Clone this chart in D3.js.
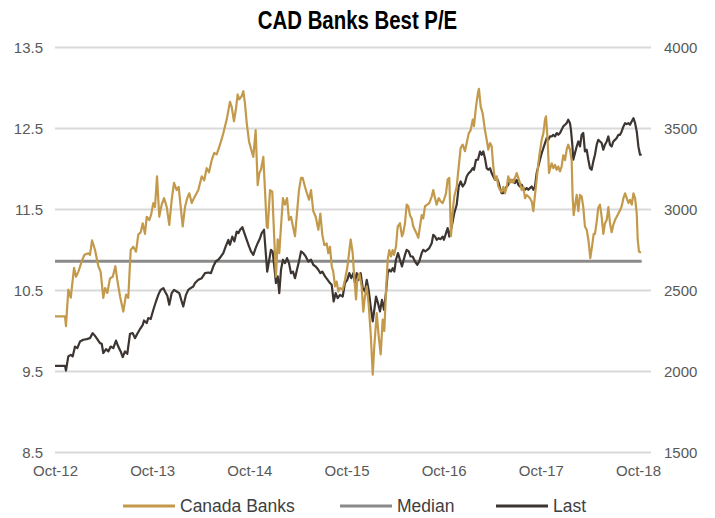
<!DOCTYPE html>
<html>
<head>
<meta charset="utf-8">
<script src="https://cdn.jsdelivr.net/npm/d3@7"></script>
<style>
  body { margin: 0; background: #fff; }
  svg { display: block; }
  .tick-label { font-family: "Liberation Sans", Arial, sans-serif; font-size: 15px; fill: #595959; }
  .legend-label { font-family: "Liberation Sans", Arial, sans-serif; font-size: 17.5px; fill: #404040; }
  .title { font-family: "Liberation Sans", Arial, sans-serif; font-weight: bold; font-size: 26.5px; fill: #000; }
</style>
</head>
<body>
<div id="chart"></div>
<script>
// decimal year, best P/E (left axis)
const canadaBanks = [
  [2012.750,10.18],[2012.853,10.18],[2012.863,10.06],[2012.887,10.51],[2012.912,10.41],[2012.946,10.78],[2012.966,10.67],[2012.990,10.73],
  [2013.025,10.86],[2013.052,10.94],[2013.093,10.96],[2013.110,10.94],[2013.131,11.12],[2013.162,11.00],[2013.196,10.80],[2013.220,10.73],
  [2013.247,10.41],[2013.265,10.53],[2013.288,10.47],[2013.316,10.65],[2013.344,10.67],[2013.371,10.80],[2013.391,10.63],[2013.419,10.43],
  [2013.453,10.24],[2013.481,10.45],[2013.504,10.41],[2013.529,11.00],[2013.556,11.04],[2013.584,10.98],[2013.607,11.19],[2013.632,11.22],
  [2013.653,11.33],[2013.676,11.20],[2013.694,11.41],[2013.720,11.37],[2013.738,11.43],[2013.762,11.58],[2013.779,11.53],[2013.800,11.91],
  [2013.823,11.41],[2013.848,11.56],[2013.872,11.64],[2013.900,11.53],[2013.926,11.31],[2013.951,11.62],[2013.975,11.83],[2014.002,11.74],
  [2014.023,11.78],[2014.044,11.53],[2014.064,11.29],[2014.088,11.53],[2014.111,11.64],[2014.132,11.70],[2014.157,11.58],[2014.180,11.64],
  [2014.225,11.74],[2014.260,11.91],[2014.286,11.86],[2014.311,12.01],[2014.335,11.96],[2014.363,12.11],[2014.389,12.20],[2014.414,12.18],
  [2014.448,12.30],[2014.482,12.44],[2014.517,12.61],[2014.551,12.83],[2014.568,12.77],[2014.592,12.59],[2014.613,12.75],[2014.630,12.92],
  [2014.647,12.86],[2014.671,12.90],[2014.688,12.96],[2014.705,12.81],[2014.723,12.57],[2014.747,12.34],[2014.774,12.22],[2014.791,12.15],
  [2014.815,12.48],[2014.836,11.80],[2014.853,11.95],[2014.870,11.99],[2014.894,12.15],[2014.911,11.74],[2014.929,11.29],[2014.939,11.27],
  [2014.963,11.74],[2014.986,11.72],[2015.007,11.13],[2015.024,10.67],[2015.042,11.13],[2015.058,10.96],[2015.076,11.29],[2015.096,11.64],
  [2015.117,11.56],[2015.138,11.64],[2015.158,11.37],[2015.179,11.41],[2015.199,11.29],[2015.220,11.17],[2015.240,11.45],[2015.261,11.74],
  [2015.282,11.89],[2015.299,11.89],[2015.323,11.78],[2015.343,11.70],[2015.364,11.62],[2015.385,11.74],[2015.408,11.48],[2015.433,11.41],
  [2015.460,11.25],[2015.481,11.45],[2015.501,11.19],[2015.522,11.06],[2015.546,11.08],[2015.563,10.96],[2015.580,11.04],[2015.598,10.80],
  [2015.614,10.73],[2015.632,10.55],[2015.649,10.61],[2015.666,10.49],[2015.683,10.53],[2015.711,10.51],[2015.734,10.63],[2015.758,10.78],
  [2015.793,11.13],[2015.814,10.96],[2015.827,10.71],[2015.848,10.39],[2015.861,10.63],[2015.882,10.71],[2015.906,10.55],[2015.923,10.24],
  [2015.940,10.43],[2015.958,10.55],[2015.978,10.33],[2015.999,9.97],[2016.020,9.46],[2016.036,9.81],[2016.061,10.22],[2016.081,9.94],
  [2016.102,9.71],[2016.122,10.14],[2016.139,10.00],[2016.156,10.47],[2016.174,10.88],[2016.190,11.00],[2016.208,10.92],[2016.225,11.00],
  [2016.239,10.94],[2016.259,11.04],[2016.277,11.29],[2016.300,11.33],[2016.321,11.17],[2016.334,11.21],[2016.352,11.33],[2016.369,11.56],
  [2016.386,11.54],[2016.403,11.43],[2016.421,11.39],[2016.437,11.29],[2016.465,11.22],[2016.489,11.15],[2016.506,11.29],[2016.524,11.43],
  [2016.540,11.39],[2016.558,11.54],[2016.581,11.56],[2016.602,11.58],[2016.627,11.66],[2016.643,11.74],[2016.661,11.64],[2016.678,11.56],
  [2016.699,11.64],[2016.719,11.60],[2016.740,11.58],[2016.753,11.62],[2016.774,11.70],[2016.791,11.87],[2016.808,11.89],[2016.825,11.17],
  [2016.843,11.48],[2016.859,11.66],[2016.884,11.78],[2016.905,12.03],[2016.925,12.26],[2016.946,12.30],[2016.969,12.22],[2016.987,12.32],
  [2017.008,12.44],[2017.028,12.48],[2017.049,12.61],[2017.062,12.53],[2017.083,12.77],[2017.103,12.94],[2017.113,12.99],[2017.131,12.77],
  [2017.151,12.69],[2017.175,12.48],[2017.193,12.36],[2017.209,12.24],[2017.227,12.32],[2017.244,12.28],[2017.261,12.03],[2017.278,11.87],
  [2017.296,11.91],[2017.312,11.79],[2017.330,11.74],[2017.347,11.72],[2017.364,11.78],[2017.381,11.70],[2017.399,11.78],[2017.415,11.91],
  [2017.433,11.83],[2017.450,11.87],[2017.467,11.83],[2017.484,11.89],[2017.502,11.95],[2017.518,11.89],[2017.535,11.83],[2017.553,11.74],
  [2017.570,11.78],[2017.587,11.64],[2017.604,11.68],[2017.621,11.66],[2017.638,11.64],[2017.656,11.60],[2017.673,11.48],[2017.690,11.68],
  [2017.707,11.87],[2017.724,12.07],[2017.741,12.22],[2017.759,12.36],[2017.776,12.44],[2017.793,12.61],[2017.803,12.65],[2017.820,12.36],
  [2017.834,11.95],[2017.847,12.01],[2017.862,12.07],[2017.878,12.01],[2017.896,12.05],[2017.913,11.99],[2017.930,12.03],[2017.947,11.97],
  [2017.964,12.03],[2017.981,12.17],[2017.999,12.11],[2018.016,12.24],[2018.032,12.30],[2018.050,12.24],[2018.067,12.11],[2018.077,11.66],
  [2018.088,11.43],[2018.101,11.54],[2018.119,11.68],[2018.136,11.48],[2018.153,11.68],[2018.170,11.66],[2018.187,11.53],[2018.204,11.29],
  [2018.222,11.25],[2018.239,11.13],[2018.259,10.90],[2018.280,11.07],[2018.294,11.20],[2018.307,11.20],[2018.325,11.35],[2018.341,11.52],
  [2018.359,11.56],[2018.376,11.41],[2018.393,11.20],[2018.410,11.33],[2018.428,11.37],[2018.445,11.53],[2018.462,11.33],[2018.479,11.22],
  [2018.496,11.31],[2018.513,11.37],[2018.531,11.41],[2018.548,11.45],[2018.565,11.49],[2018.582,11.54],[2018.600,11.64],[2018.617,11.70],
  [2018.634,11.64],[2018.651,11.58],[2018.668,11.62],[2018.686,11.56],[2018.703,11.70],[2018.720,11.64],[2018.737,11.45],[2018.747,11.13],
  [2018.760,10.98],[2018.781,10.97]
]

// decimal year, index level (right axis)
const last = [
  [2012.750,2035],[2012.853,2035],[2012.863,2006],[2012.887,2093],[2012.912,2103],[2012.932,2093],[2012.956,2154],[2012.980,2144],
  [2013.007,2185],[2013.041,2196],[2013.076,2200],[2013.110,2206],[2013.138,2237],[2013.162,2220],[2013.185,2200],[2013.213,2175],
  [2013.231,2171],[2013.247,2114],[2013.275,2138],[2013.299,2124],[2013.323,2154],[2013.350,2144],[2013.378,2191],[2013.401,2154],
  [2013.426,2124],[2013.447,2089],[2013.470,2124],[2013.494,2109],[2013.522,2233],[2013.550,2237],[2013.573,2206],[2013.597,2233],
  [2013.625,2262],[2013.653,2288],[2013.666,2315],[2013.694,2299],[2013.710,2330],[2013.735,2324],[2013.762,2381],[2013.789,2432],
  [2013.813,2473],[2013.838,2504],[2013.865,2515],[2013.882,2494],[2013.906,2467],[2013.926,2412],[2013.951,2484],[2013.975,2504],
  [2014.002,2494],[2014.029,2484],[2014.054,2432],[2014.070,2401],[2014.098,2473],[2014.122,2504],[2014.146,2515],[2014.173,2525],
  [2014.191,2546],[2014.225,2566],[2014.260,2576],[2014.294,2607],[2014.328,2611],[2014.355,2607],[2014.379,2648],[2014.404,2679],
  [2014.431,2690],[2014.458,2710],[2014.482,2731],[2014.507,2772],[2014.534,2813],[2014.551,2782],[2014.575,2833],[2014.596,2803],
  [2014.620,2864],[2014.637,2854],[2014.655,2875],[2014.678,2891],[2014.699,2854],[2014.723,2813],[2014.747,2772],[2014.767,2741],
  [2014.791,2720],[2014.815,2762],[2014.836,2792],[2014.860,2823],[2014.877,2854],[2014.901,2875],[2014.918,2741],[2014.934,2617],
  [2014.952,2679],[2014.972,2751],[2014.990,2741],[2015.007,2648],[2015.024,2546],[2015.042,2587],[2015.058,2484],[2015.076,2628],
  [2015.096,2690],[2015.117,2669],[2015.138,2700],[2015.158,2669],[2015.179,2607],[2015.199,2617],[2015.220,2576],[2015.240,2628],
  [2015.261,2679],[2015.282,2741],[2015.305,2731],[2015.330,2710],[2015.357,2679],[2015.385,2690],[2015.408,2659],[2015.433,2648],
  [2015.460,2628],[2015.481,2607],[2015.501,2617],[2015.529,2587],[2015.556,2566],[2015.580,2546],[2015.598,2535],[2015.618,2432],
  [2015.639,2484],[2015.659,2453],[2015.683,2473],[2015.711,2463],[2015.734,2546],[2015.758,2566],[2015.779,2607],[2015.799,2576],
  [2015.820,2607],[2015.837,2546],[2015.855,2607],[2015.872,2566],[2015.896,2607],[2015.917,2515],[2015.940,2494],[2015.958,2566],
  [2015.978,2504],[2015.999,2401],[2016.020,2309],[2016.036,2381],[2016.054,2463],[2016.074,2422],[2016.095,2371],[2016.115,2442],
  [2016.136,2381],[2016.156,2484],[2016.174,2607],[2016.190,2628],[2016.208,2617],[2016.225,2638],[2016.242,2617],[2016.259,2690],
  [2016.280,2731],[2016.300,2690],[2016.321,2648],[2016.334,2679],[2016.352,2720],[2016.369,2751],[2016.390,2741],[2016.410,2710],
  [2016.431,2710],[2016.455,2679],[2016.479,2659],[2016.499,2679],[2016.524,2731],[2016.540,2751],[2016.561,2741],[2016.581,2751],
  [2016.602,2762],[2016.627,2792],[2016.643,2844],[2016.661,2833],[2016.678,2813],[2016.699,2823],[2016.719,2817],[2016.740,2833],
  [2016.753,2813],[2016.774,2854],[2016.791,2885],[2016.808,2833],[2016.825,2875],[2016.843,2926],[2016.859,2977],[2016.884,3029],
  [2016.905,3142],[2016.925,3173],[2016.946,3142],[2016.969,3163],[2016.987,3204],[2017.008,3225],[2017.028,3235],[2017.049,3255],
  [2017.062,3245],[2017.083,3307],[2017.103,3307],[2017.124,3358],[2017.141,3338],[2017.158,3358],[2017.175,3317],[2017.193,3255],
  [2017.209,3245],[2017.227,3255],[2017.244,3225],[2017.261,3204],[2017.278,3183],[2017.296,3194],[2017.312,3173],[2017.330,3132],
  [2017.347,3101],[2017.364,3101],[2017.381,3122],[2017.399,3142],[2017.415,3153],[2017.433,3183],[2017.450,3173],[2017.467,3183],
  [2017.484,3163],[2017.502,3183],[2017.518,3153],[2017.535,3142],[2017.553,3153],[2017.570,3132],[2017.587,3122],[2017.604,3132],
  [2017.621,3122],[2017.638,3132],[2017.656,3142],[2017.673,3122],[2017.690,3142],[2017.707,3225],[2017.724,3266],[2017.741,3307],
  [2017.759,3348],[2017.776,3379],[2017.793,3410],[2017.810,3441],[2017.827,3430],[2017.844,3451],[2017.862,3451],[2017.878,3461],
  [2017.896,3451],[2017.913,3472],[2017.930,3461],[2017.947,3472],[2017.964,3492],[2017.981,3513],[2017.999,3523],[2018.016,3533],
  [2018.032,3554],[2018.050,3533],[2018.060,3492],[2018.074,3400],[2018.084,3307],[2018.101,3348],[2018.119,3389],[2018.136,3420],
  [2018.153,3389],[2018.170,3461],[2018.187,3472],[2018.204,3358],[2018.222,3369],[2018.239,3307],[2018.256,3255],[2018.273,3245],
  [2018.290,3297],[2018.307,3338],[2018.325,3400],[2018.341,3430],[2018.359,3420],[2018.376,3410],[2018.393,3369],[2018.410,3400],
  [2018.428,3420],[2018.445,3451],[2018.462,3400],[2018.479,3389],[2018.496,3420],[2018.513,3430],[2018.531,3441],[2018.548,3461],
  [2018.565,3461],[2018.582,3482],[2018.600,3513],[2018.617,3533],[2018.634,3527],[2018.651,3533],[2018.668,3523],[2018.686,3544],
  [2018.703,3564],[2018.720,3533],[2018.737,3482],[2018.754,3389],[2018.771,3338],[2018.788,3338]
]

const medianPE = 10.86

const xTicks = [2012.75, 2013.75, 2014.75, 2015.75, 2016.75, 2017.75, 2018.75]
const xTickLabels = ['Oct-12', 'Oct-13', 'Oct-14', 'Oct-15', 'Oct-16', 'Oct-17', 'Oct-18']
const leftTicks = [8.5, 9.5, 10.5, 11.5, 12.5, 13.5]
const rightTicks = [1500, 2000, 2500, 3000, 3500, 4000]

const legendItems = [
  { name: 'Canada Banks', color: '#C39A4B' },
  { name: 'Median', color: '#8A8A8A' },
  { name: 'Last', color: '#3C3531' }
]

const W = 715, H = 518
const plotLeft = 55, plotRight = 651
const plotTop = 47.5, plotBottom = 452.5

const x = d3.scaleLinear().domain([2012.75, 2018.75]).range([plotLeft, 638])
const yLeft = d3.scaleLinear().domain([8.5, 13.5]).range([plotBottom, plotTop])
const yRight = d3.scaleLinear().domain([1500, 4000]).range([plotBottom, plotTop])

const svg = d3.select('#chart').append('svg')
    .attr('width', W)
    .attr('height', H)

// narrow bold title, like the original's condensed face
svg.append('text')
    .attr('class', 'title')
    .attr('transform', `translate(${W / 2},28.5) scale(0.77,1)`)
    .attr('text-anchor', 'middle')
    .text('CAD Banks Best P/E')

// gridlines
svg.append('g').selectAll('line').data(leftTicks).enter()
  .append('line')
    .attr('x1', plotLeft)
    .attr('x2', plotRight)
    .attr('y1', d => yLeft(d))
    .attr('y2', d => yLeft(d))
    .attr('stroke', '#D9D9D9')
    .attr('stroke-width', 2)

// left axis
const leftAxis = svg.append('g')
    .attr('transform', `translate(${plotLeft - 12},0)`)
    .call(d3.axisLeft(yLeft).tickValues(leftTicks).tickSize(0).tickPadding(0).tickFormat(d3.format('.1f')))
leftAxis.select('.domain').remove()
leftAxis.selectAll('text').attr('class', 'tick-label').attr('fill', null)

// right axis
const rightAxis = svg.append('g')
    .attr('transform', `translate(${plotRight + 13},0)`)
    .call(d3.axisRight(yRight).tickValues(rightTicks).tickSize(0).tickPadding(0).tickFormat(d3.format('d')))
rightAxis.select('.domain').remove()
rightAxis.selectAll('text').attr('class', 'tick-label').attr('fill', null)

// bottom axis
const bottomAxis = svg.append('g')
    .attr('transform', `translate(0,${plotBottom + 11})`)
    .call(d3.axisBottom(x).tickValues(xTicks).tickSize(0).tickPadding(2)
      .tickFormat((d, i) => xTickLabels[i]))
bottomAxis.select('.domain').remove()
bottomAxis.selectAll('text').attr('class', 'tick-label').attr('fill', null)

// median
svg.append('line')
    .attr('x1', x(canadaBanks[0][0]))
    .attr('x2', x(last[last.length - 1][0]))
    .attr('y1', yLeft(medianPE))
    .attr('y2', yLeft(medianPE))
    .attr('stroke', legendItems[1].color)
    .attr('stroke-width', 3)

const bankLine = d3.line()
    .x(d => x(d[0]))
    .y(d => yLeft(d[1]))

const lastLine = d3.line()
    .x(d => x(d[0]))
    .y(d => yRight(d[1]))

svg.append('path')
    .datum(last)
    .attr('d', lastLine)
    .attr('fill', 'none')
    .attr('stroke', legendItems[2].color)
    .attr('stroke-width', 2.2)
    .attr('stroke-linejoin', 'round')

svg.append('path')
    .datum(canadaBanks)
    .attr('d', bankLine)
    .attr('fill', 'none')
    .attr('stroke', legendItems[0].color)
    .attr('stroke-width', 2.2)
    .attr('stroke-linejoin', 'round')

// legend
const legendX = [123, 340, 496]
const legend = svg.append('g').selectAll('g').data(legendItems).enter()
  .append('g')
    .attr('transform', (d, i) => `translate(${legendX[i]},506)`)

legend.append('line')
    .attr('x1', 0)
    .attr('x2', 52)
    .attr('stroke', d => d.color)
    .attr('stroke-width', 3)

legend.append('text')
    .attr('class', 'legend-label')
    .attr('x', 57)
    .attr('y', 6.3)
    .text(d => d.name)
</script>
</body>
</html>
